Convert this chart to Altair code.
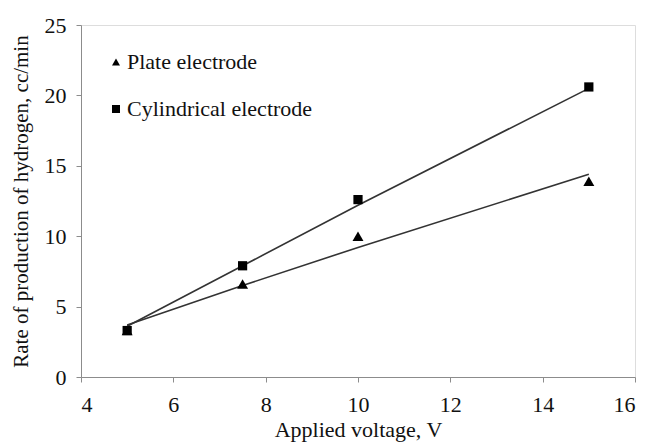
import altair as alt
import pandas as pd

voltage = [5, 7.5, 10, 15]
plate = [3.3, 6.6, 10.0, 13.9]
cylindrical = [3.3, 7.9, 12.6, 20.6]
plate_fit = [3.7, 6.5, 9.2, 14.4]
cyl_fit = [3.6, 7.9, 12.2, 20.5]
series = ["Plate electrode", "Cylindrical electrode"]

pts = pd.DataFrame({
    "x": voltage * 2,
    "y": plate + cylindrical,
    "s": [series[0]] * 4 + [series[1]] * 4,
})
fit = pd.DataFrame({
    "x": voltage * 2,
    "y": plate_fit + cyl_fit,
    "s": [series[0]] * 4 + [series[1]] * 4,
})

font = "'Liberation Serif', 'Times New Roman', Times, serif"
xs = alt.Scale(domain=[4, 16], nice=False)
ys = alt.Scale(domain=[0, 25], nice=False)
shape_scale = alt.Scale(domain=series, range=["triangle-up", "square"])

axis_common = dict(
    domainColor="#8c8c8c", tickColor="#8c8c8c", grid=False,
    labelFont=font, labelFontSize=22, labelColor="#111",
    titleFont=font, titleColor="#111", titleFontWeight="normal",
    tickSize=5,
)

xenc = alt.X("x:Q", scale=xs, title="Applied voltage, V",
             axis=alt.Axis(values=[4, 6, 8, 10, 12, 14, 16], labelPadding=12,
                           titlePadding=4, titleFontSize=22, **axis_common))
yenc = alt.Y("y:Q", scale=ys, title="Rate of production of hydrogen, cc/min",
             axis=alt.Axis(values=[0, 5, 10, 15, 20, 25], labelPadding=10,
                           titlePadding=13, titleFontSize=21, **axis_common))

lines = alt.Chart(fit).mark_line(color="#333", strokeWidth=1.6).encode(
    x=xenc, y=yenc, detail="s:N",
)

tri = alt.Chart(pts).transform_filter(alt.datum.s == series[0]).mark_point(
    filled=True, opacity=1, color="black", size=120
).encode(
    x=xenc, y=yenc,
    shape=alt.Shape("s:N", scale=shape_scale,
                    legend=alt.Legend(title=None, orient="none", legendX=24, legendY=26,
                                      labelFont=font, labelFontSize=22, labelColor="#111",
                                      labelLimit=400,
                                      symbolFillColor="black", symbolStrokeColor="black",
                                      symbolSize=64, rowPadding=25, padding=0, labelOffset=0)),
)

sq = alt.Chart(pts).transform_filter(alt.datum.s == series[1]).mark_point(
    filled=True, opacity=1, color="black", size=85
).encode(
    x=xenc, y=yenc,
    shape=alt.Shape("s:N", scale=shape_scale),
)

chart = alt.layer(lines, tri, sq).properties(
    width=554, height=352,
    autosize=alt.AutoSizeParams(type="none"),
    padding={"left": 73, "top": 17, "right": 4, "bottom": 67},
).configure_view(stroke=None).configure(background="white")

chart.save("out.html", embed_options={"renderer": "svg", "actions": False})
